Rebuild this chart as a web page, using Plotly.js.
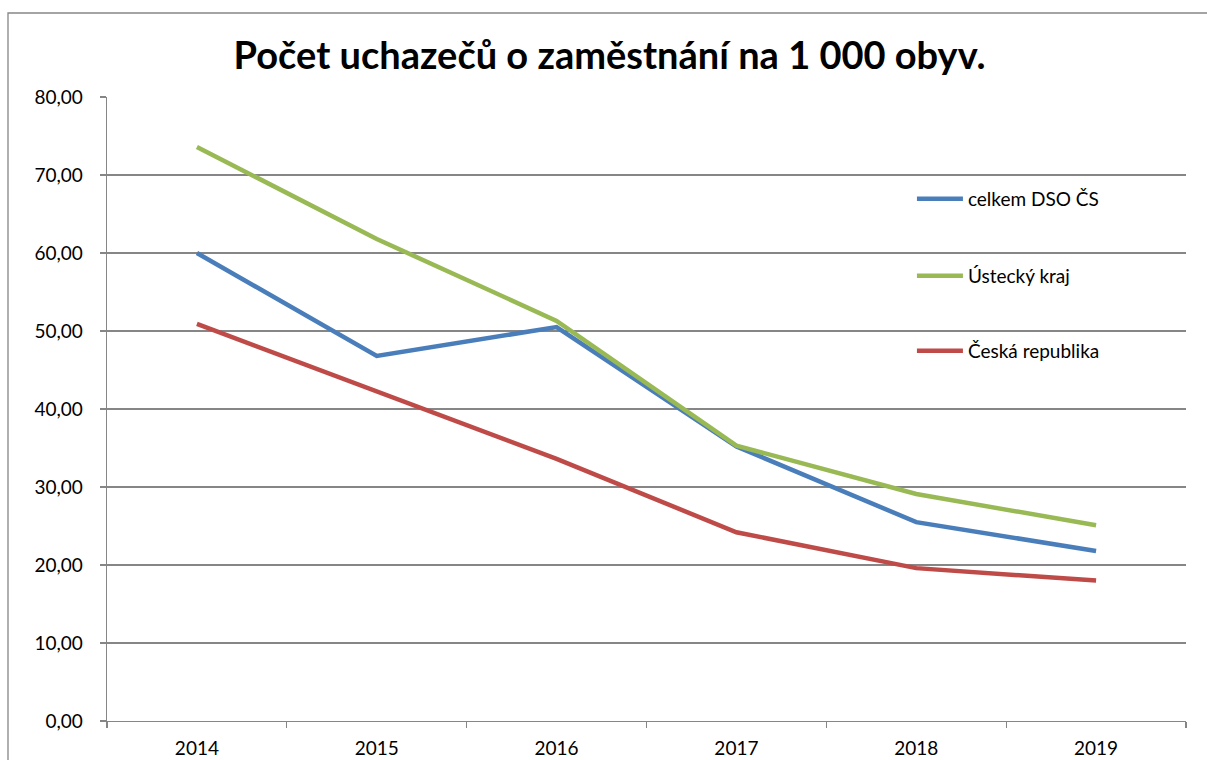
<!DOCTYPE html>
<html>
<head>
<meta charset="utf-8">
<script src="https://cdn.plot.ly/plotly-3.0.1.min.js"></script>
<style>
html,body{margin:0;padding:0;background:#fff;}
#chart{width:1207px;height:760px;}
</style>
</head>
<body>
<div id="chart"></div>
<script>
const years = ["2014","2015","2016","2017","2018","2019"];
const celkemDSO = [60.0, 46.8, 50.5, 35.2, 25.5, 21.8];
const usteckyKraj = [73.6, 61.8, 51.3, 35.3, 29.1, 25.1];
const ceskaRepublika = [50.9, 42.3, 33.6, 24.2, 19.6, 18.0];
const seriesNames = ["celkem DSO ČS", "Ústecký kraj", "Česká republika"];
const yTicks = [0,10,20,30,40,50,60,70,80];

const FONT = "Lato, 'Open Sans', sans-serif";

const traces = [
  {x: years, y: celkemDSO, name: seriesNames[0], type: "scatter", mode: "lines",
   line: {color: "#4a7ebb", width: 4.5}, legend: "legend"},
  {x: years, y: usteckyKraj, name: seriesNames[1], type: "scatter", mode: "lines",
   line: {color: "#98b954", width: 4.5}, legend: "legend2"},
  {x: years, y: ceskaRepublika, name: seriesNames[2], type: "scatter", mode: "lines",
   line: {color: "#be4b48", width: 4.5}, legend: "legend3"}
];

const legBase = {x: 0.746, xanchor: "left", yanchor: "middle", bgcolor: "rgba(0,0,0,0)",
  itemwidth: 46,
  font: {family: FONT, size: 19, color: "#000"}, borderwidth: 0};

const layout = {
  width: 1207, height: 760,
  paper_bgcolor: "#fff", plot_bgcolor: "#fff",
  separators: ", ",
  margin: {l: 107, r: 21, t: 97, b: 39},
  font: {family: FONT, color: "#000"},
  title: {text: "<b>Počet uchazečů o zaměstnání na 1 000 obyv.</b>",
    font: {family: FONT, size: 38, color: "#000"},
    x: 0.505, xref: "container", xanchor: "center",
    y: 1 - 56/760, yref: "container", yanchor: "middle"},
  xaxis: {type: "category", range: [-0.5, 5.5], showgrid: false,
    showline: true, linecolor: "#868686", linewidth: 1.3,
    ticks: "outside", tickson: "boundaries", ticklen: 6, tickcolor: "#868686", tickwidth: 1.3,
    ticklabelstandoff: 10,
    tickfont: {family: FONT, size: 19, color: "#000"}, zeroline: false, fixedrange: true},
  yaxis: {range: [0, 80], tickvals: yTicks, tickformat: ".2f",
    showgrid: true, gridcolor: "#868686", gridwidth: 1.3,
    showline: true, linecolor: "#868686", linewidth: 1.3,
    ticks: "outside", ticklen: 6, tickcolor: "#868686", tickwidth: 1.3,
    ticklabelstandoff: 13,
    tickfont: {family: FONT, size: 19, color: "#000"}, zeroline: false, fixedrange: true},
  showlegend: true,
  legend: Object.assign({}, legBase, {y: (721-199)/624}),
  legend2: Object.assign({}, legBase, {y: (721-276)/624}),
  legend3: Object.assign({}, legBase, {y: (721-351)/624}),
  shapes: [
    {type: "rect", xref: "paper", yref: "paper",
     x0: (8-107)/1079, x1: 1.3, y0: -0.3, y1: (721-13)/624,
     line: {color: "#868686", width: 1.3}, fillcolor: "rgba(0,0,0,0)", layer: "below"}
  ]
};

Plotly.newPlot("chart", traces, layout, {displayModeBar: false, staticPlot: true});
</script>
</body>
</html>
